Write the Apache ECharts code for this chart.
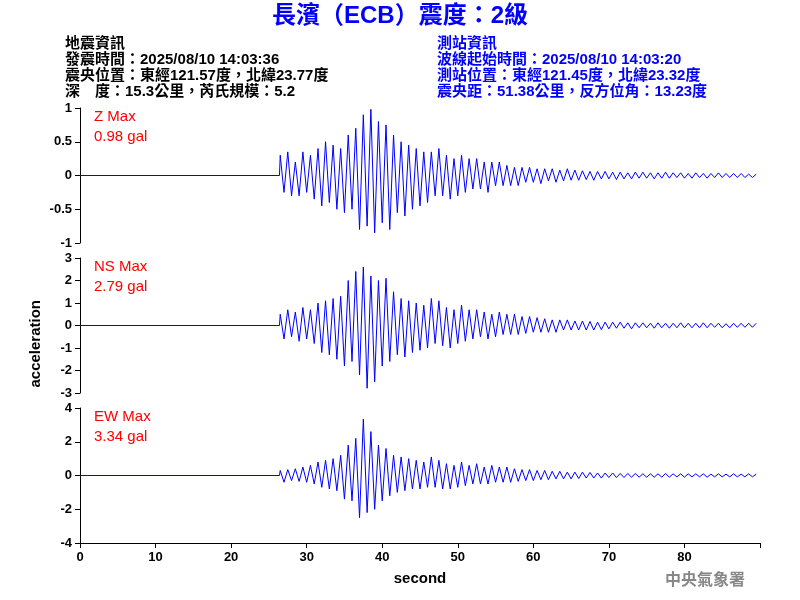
<!DOCTYPE html><html><head><meta charset="utf-8"><script src="https://cdn.jsdelivr.net/npm/echarts@6/dist/echarts.min.js"></script></head><body style="margin:0"><div id="c" style="width:800px;height:600px"></div><script>
const startTime=26.5, step=0.5;
const zVals=[.3,-.25,.35,-.3,.2,-.3,.35,-.25,.3,-.35,.4,-.45,.5,-.4,.45,-.5,.4,-.55,.6,-.5,.7,-.8,.9,-.75,.98,-.85,.8,-.7,.75,-.8,.6,-.55,.5,-.6,.45,-.5,.4,-.45,.35,-.4,.35,-.3,.4,-.3,.3,-.35,.25,-.3,.3,-.25,.25,-.2,.25,-.2,.2,-.25,.2,-.15,.2,-.15,.15,-.15,.12,-.15,.12,-.1,.12,-.1,.1,-.12,.1,-.08,.1,-.1,.08,-.08,.1,-.07,.08,-.07,.07,-.06,.06,-.07,.06,-.05,.06,-.05,.05,-.06,.05,-.05,.04,-.05,.05,-.04,.05,-.04,.04,-.05,.04,-.04,.05,-.04,.04,-.03,.04,-.04,.03,-.04,.04,-.03,.03,-.04,.03,-.03,.04,-.03,.03,-.03,.03,-.03,.03,-.03,.02,-.03,.02];
const nsVals=[.5,-.6,.7,-.5,.6,-.7,.8,-.6,.7,-.8,1,-1.2,1.1,-1.3,1.2,-1.5,1.3,-1.8,2,-1.6,2.4,-2.2,2.6,-2.79,2.2,-2.5,2,-1.8,2.1,-1.6,1.5,-1.3,1.2,-1.4,1.1,-1.2,1,-1.1,.9,-1,1.2,-.8,1.1,-.9,.8,-1,.7,-.8,.9,-.7,.7,-.6,.7,-.5,.6,-.6,.5,-.5,.6,-.4,.5,-.4,.5,-.4,.4,-.35,.4,-.3,.35,-.3,.3,-.3,.25,-.3,.25,-.2,.25,-.2,.2,-.2,.2,-.2,.18,-.2,.15,-.18,.15,-.15,.15,-.12,.15,-.12,.12,-.15,.12,-.1,.12,-.1,.1,-.12,.12,-.1,.1,-.12,.1,-.1,.12,-.1,.1,-.1,.1,-.1,.12,-.1,.1,-.08,.1,-.1,.08,-.1,.1,-.08,.1,-.08,.1,-.08,.1];
const ewVals=[.3,-.4,.35,-.3,.4,-.35,.5,-.4,.6,-.5,.8,-.7,.9,-.8,1,-.9,1.2,-1.4,1.8,-1.5,2.2,-2.5,3.34,-2.2,2.6,-2,1.8,-1.5,1.6,-1.2,1.2,-1,1.1,-.9,1,-.8,.9,-.8,.8,-.7,1.1,-.7,.9,-.8,.7,-.8,.6,-.7,.8,-.6,.6,-.5,.7,-.5,.5,-.5,.6,-.4,.5,-.4,.5,-.4,.4,-.35,.35,-.3,.35,-.3,.3,-.25,.3,-.25,.25,-.2,.25,-.2,.2,-.2,.2,-.18,.2,-.15,.18,-.15,.15,-.15,.15,-.12,.15,-.12,.12,-.12,.12,-.1,.12,-.1,.1,-.1,.1,-.1,.1,-.1,.12,-.1,.1,-.08,.1,-.1,.1,-.08,.1,-.08,.1,-.1,.08,-.08,.1,-.08,.08,-.08,.1,-.08,.08,-.08,.1,-.08,.08];
const yTicks=[[-1,1,0.5],[-3,3,1],[-4,4,2]];
const maxLabels=[["Z Max","0.98 gal"],["NS Max","2.79 gal"],["EW Max","3.34 gal"]];
const headerLeft=["地震資訊","發震時間：2025/08/10 14:03:36","震央位置：東經121.57度，北緯23.77度","深　度：15.3公里，芮氏規模：5.2"];
const headerRight=["測站資訊","波線起始時間：2025/08/10 14:03:20","測站位置：東經121.45度，北緯23.32度","震央距：51.38公里，反方位角：13.23度"];
function build(v){const d=[[0,0],[26.4,0]];v.forEach((y,i)=>d.push([startTime+i*step,y]));return d;}
const all=[zVals,nsVals,ewVals];
const tops=[108,258,408];
const F='"Liberation Sans","Noto Sans CJK TC",sans-serif';
const grids=tops.map(t=>({left:80,right:40,top:t,height:135}));
const xAxis=tops.map((t,i)=>({gridIndex:i,type:'value',min:0,max:90,interval:10,show:i==2,
 axisLine:{show:i==2,onZero:false,lineStyle:{color:'#000'}},axisTick:{show:i==2,lineStyle:{color:'#000'}},splitLine:{show:false},
 axisLabel:{color:'#000',fontFamily:F,fontSize:13,fontWeight:'bold',formatter:v=>v>=90?'':v},name:i==2?'second':'',nameLocation:'middle',nameGap:28,nameTextStyle:{color:'#000',fontFamily:F,fontSize:15,fontWeight:'bold'}}));
const yAxis=yTicks.map((y,i)=>({gridIndex:i,type:'value',min:y[0],max:y[1],interval:y[2],axisLine:{show:true,lineStyle:{color:'#000'}},axisTick:{show:true,lineStyle:{color:'#000'}},splitLine:{show:false},axisLabel:{color:'#000',fontFamily:F,fontSize:13,fontWeight:'bold'}}));
const series=all.map((v,i)=>({type:'line',xAxisIndex:i,yAxisIndex:i,data:build(v),symbol:'none',lineStyle:{color:'#0000ff',width:1},animation:false}));
const g=[{type:'text',left:'center',top:4,style:{text:'長濱（ECB）震度：2級',fill:'#0000ff',font:'bold 24px '+F}},
 {type:'text',left:28,top:300,rotation:Math.PI/2,style:{text:'acceleration',fill:'#000',font:'bold 15px '+F,align:'center',verticalAlign:'middle'}},
 {type:'text',right:55,top:571,style:{text:'中央氣象署',fill:'#888',font:'bold 16px "Noto Sans CJK TC"'}}];
headerLeft.forEach((s,i)=>g.push({type:'text',left:65,top:36+i*16,style:{text:s,fill:'#000',font:'bold 15px '+F}}));
headerRight.forEach((s,i)=>g.push({type:'text',left:437,top:36+i*16,style:{text:s,fill:'#0000ff',font:'bold 15px '+F}}));
maxLabels.forEach((m,i)=>{g.push({type:'text',left:94,top:tops[i]+1,style:{text:m[0],fill:'#ff0000',font:'15px '+F}});g.push({type:'text',left:94,top:tops[i]+21,style:{text:m[1],fill:'#ff0000',font:'15px '+F}});});
const ch=echarts.init(document.getElementById('c'));
ch.setOption({animation:false,backgroundColor:'#fff',grid:grids,xAxis,yAxis,series,graphic:g});
</script></body></html>
